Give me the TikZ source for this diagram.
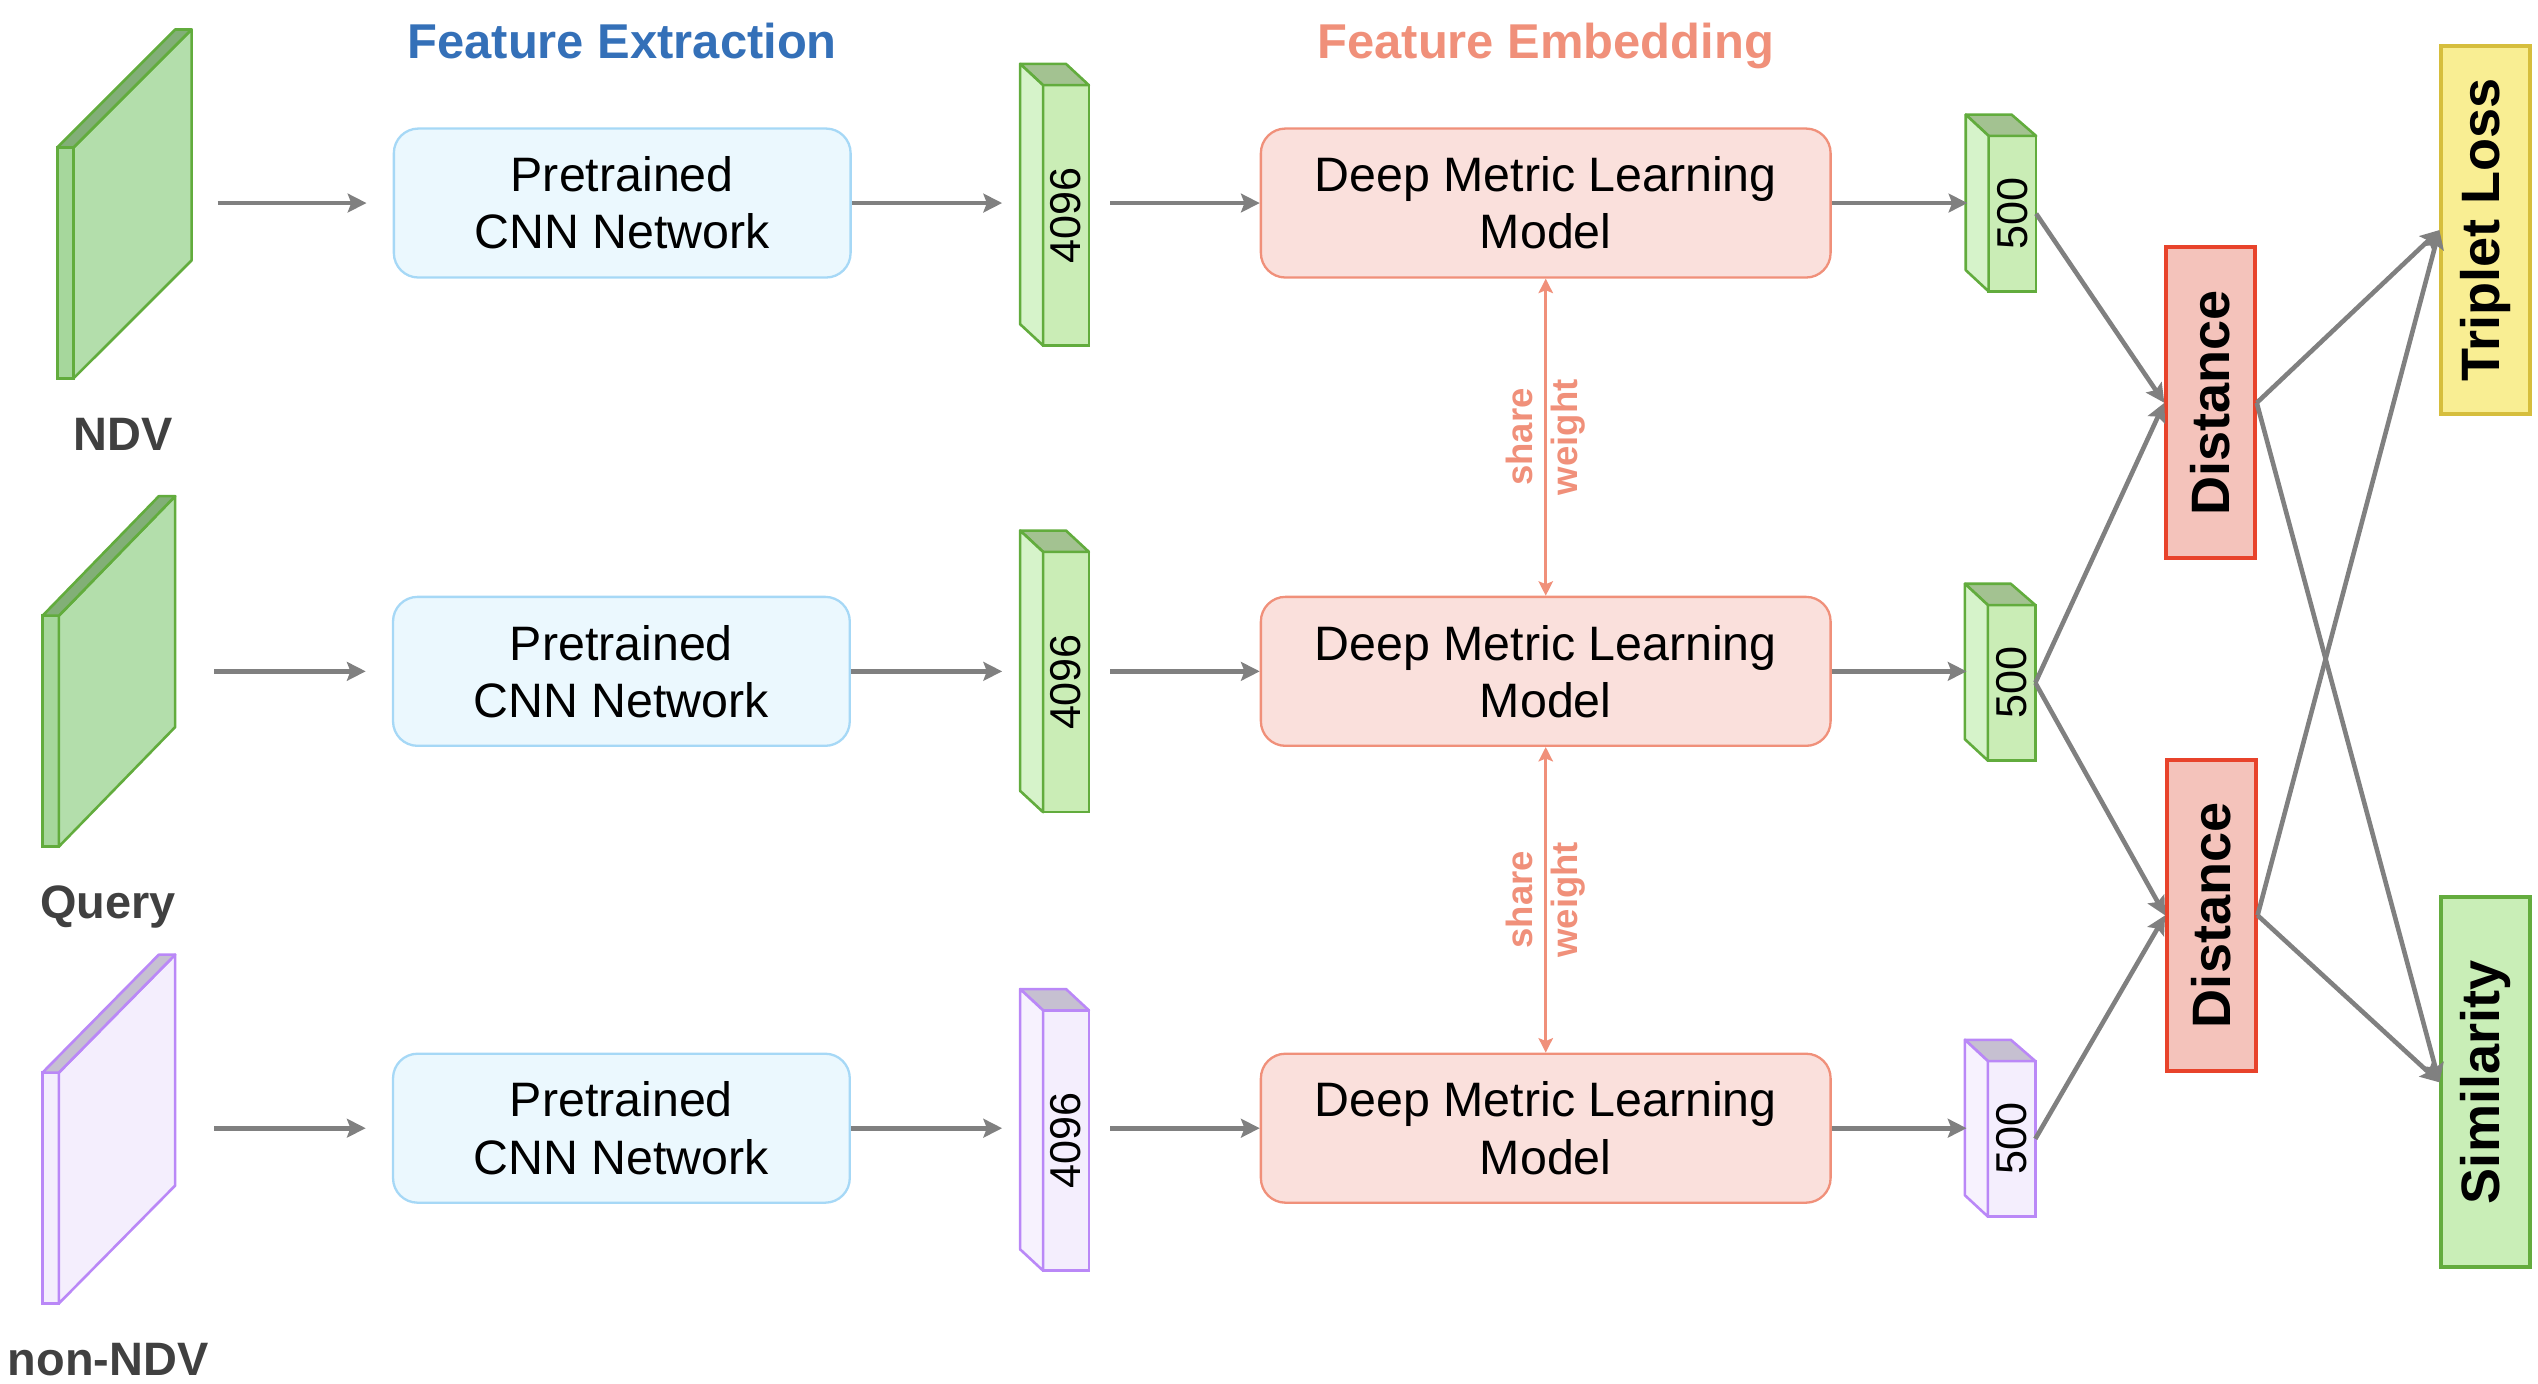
\documentclass[tikz,border=0pt]{standalone}
\usepackage{fontspec}
\setmainfont{Liberation Sans}
\usetikzlibrary{arrows.meta,calc}
\definecolor{fx_blue}{RGB}{52, 112, 184}
\definecolor{fe_red}{RGB}{240, 144, 122}
\definecolor{lb_gray}{RGB}{64, 64, 64}
\definecolor{ar_gray}{RGB}{128, 128, 128}
\definecolor{cn_fill}{RGB}{235, 248, 254}
\definecolor{cn_line}{RGB}{166, 216, 246}
\definecolor{dm_fill}{RGB}{250, 224, 220}
\definecolor{dm_line}{RGB}{240, 144, 122}
\definecolor{g_line}{RGB}{98, 172, 61}
\definecolor{g_main}{RGB}{179, 222, 171}
\definecolor{g_thin}{RGB}{166, 215, 156}
\definecolor{g_top}{RGB}{130, 175, 119}
\definecolor{gv_front}{RGB}{202, 237, 182}
\definecolor{gv_side}{RGB}{214, 243, 202}
\definecolor{gv_top}{RGB}{163, 194, 145}
\definecolor{p_line}{RGB}{186, 136, 247}
\definecolor{p_main}{RGB}{244, 238, 253}
\definecolor{p_side}{RGB}{247, 242, 254}
\definecolor{p_top}{RGB}{198, 192, 209}
\definecolor{ds_fill}{RGB}{244, 195, 187}
\definecolor{ds_line}{RGB}{232, 67, 43}
\definecolor{tl_fill}{RGB}{249, 238, 147}
\definecolor{tl_line}{RGB}{214, 190, 61}
\definecolor{sm_fill}{RGB}{201, 238, 183}
\definecolor{sm_line}{RGB}{100, 172, 62}
\tikzstyle{ttl}=[anchor=base,inner sep=0pt,font=\fontsize{17}{20}\selectfont\bfseries]
\tikzstyle{lb}=[anchor=base,inner sep=0pt,text=lb_gray,font=\fontsize{16.3}{19}\selectfont\bfseries]
\tikzstyle{cn}=[rectangle,rounded corners=0.3cm,fill=cn_fill,draw=cn_line,line width=0.8pt,
  minimum width=5.58cm,minimum height=1.82cm,align=center,font=\fontsize{16.8}{19.9}\selectfont]
\tikzstyle{dm}=[rectangle,rounded corners=0.3cm,fill=dm_fill,draw=dm_line,line width=0.8pt,
  minimum width=6.96cm,minimum height=1.82cm,align=center,font=\fontsize{16.8}{19.9}\selectfont]
\tikzstyle{gs}=[rectangle,fill=g_thin,draw=g_line,line width=0.9pt,inner sep=0pt,outer sep=0pt,
  minimum width=0.2cm,minimum height=2.82cm]
\tikzstyle{ps}=[rectangle,fill=p_main,draw=p_line,line width=0.9pt,inner sep=0pt,outer sep=0pt,
  minimum width=0.2cm,minimum height=2.82cm]
\tikzstyle{gv}=[rectangle,fill=gv_front,draw=g_line,line width=0.9pt,inner sep=0pt,outer sep=0pt,
  minimum width=0.56cm,minimum height=3.18cm,font=\fontsize{15}{18}\selectfont]
\tikzstyle{pv}=[rectangle,fill=p_main,draw=p_line,line width=0.9pt,inner sep=0pt,outer sep=0pt,
  minimum width=0.56cm,minimum height=3.18cm,font=\fontsize{15}{18}\selectfont]
\tikzstyle{gf}=[draw=g_line,line width=0.9pt,line join=round]
\tikzstyle{pf}=[draw=p_line,line width=0.9pt,line join=round]
\tikzstyle{ds}=[rectangle,fill=ds_fill,draw=ds_line,line width=1.4pt,inner sep=0pt,
  minimum width=1.08cm,minimum height=3.8cm,font=\fontsize{18.8}{22}\selectfont\bfseries]
\tikzstyle{tl}=[rectangle,fill=tl_fill,draw=tl_line,line width=1.4pt,inner sep=0pt,
  minimum width=1.08cm,minimum height=4.5cm,font=\fontsize{18.8}{22}\selectfont\bfseries]
\tikzstyle{sm}=[rectangle,fill=sm_fill,draw=sm_line,line width=1.4pt,inner sep=0pt,
  minimum width=1.08cm,minimum height=4.52cm,font=\fontsize{18.8}{22}\selectfont\bfseries]
\tikzstyle{ar}=[draw=ar_gray,line width=1.6pt,-{Stealth[length=6.5pt,width=6.5pt,inset=1.2pt]}]
\tikzstyle{sw}=[draw=fe_red,line width=1.2pt,{Stealth[length=5pt,width=5pt,inset=1pt]}-{Stealth[length=5pt,width=5pt,inset=1pt]}]
\tikzstyle{swl}=[rotate=90,align=center,inner sep=0pt,text=fe_red,font=\fontsize{12.7}{15.4}\selectfont\bfseries]

\begin{document}
\begin{tikzpicture}[x=0.02cm, y=-0.02cm]
    \useasboundingbox (0,0) rectangle (1550,845);
    \node [style=ttl, text=fx_blue] (fx) at (380, 36) {Feature Extraction};
    \node [style=ttl, text=fe_red] (fe) at (944, 36) {Feature Embedding};

    % inputs
    \node [style=gs] (s1) at (40, 160.5) {};
    \filldraw [style=gf, fill=g_main] (s1.north east) -- ++(72,-72) -- ++(0,141) -- (s1.south east) -- cycle;
    \filldraw [style=gf, fill=g_top] (s1.north west) -- ++(72,-72) -- ++(10,0) -- (s1.north east) -- cycle;
    \node [style=gs] (s2) at (31, 446.5) {};
    \filldraw [style=gf, fill=g_main] (s2.north east) -- ++(71,-73) -- ++(0,141) -- (s2.south east) -- cycle;
    \filldraw [style=gf, fill=g_top] (s2.north west) -- ++(71,-73) -- ++(10,0) -- (s2.north east) -- cycle;
    \node [style=ps] (s3) at (31, 725.5) {};
    \filldraw [style=pf, fill=p_main] (s3.north east) -- ++(71,-72) -- ++(0,141) -- (s3.south east) -- cycle;
    \filldraw [style=pf, fill=p_top] (s3.north west) -- ++(71,-72) -- ++(10,0) -- (s3.north east) -- cycle;
    \node [style=lb] (l1) at (75, 275) {NDV};
    \node [style=lb] (l2) at (66, 561) {Query};
    \node [style=lb] (l3) at (66, 840) {non-NDV};

    % feature extraction
    \node [style=cn] (c1) at (380, 124) {Pretrained\\CNN Network};
    \node [style=cn] (c2) at (379.5, 410) {Pretrained\\CNN Network};
    \node [style=cn] (c3) at (379.5, 689) {Pretrained\\CNN Network};

    % 4096 vectors
    \node [style=gv] (v1) at (651, 131.5) {\rotatebox{90}{4096}};
    \filldraw [style=gf, fill=gv_top] (v1.north west) -- ++(-14,-13) -- ++(28,0) -- (v1.north east) -- cycle;
    \filldraw [style=gf, fill=gv_side] (v1.north west) -- ++(-14,-13) -- ($(v1.south west)+(-14,-13)$) -- (v1.south west) -- cycle;
    \node [style=gv] (v2) at (651, 416.5) {\rotatebox{90}{4096}};
    \filldraw [style=gf, fill=gv_top] (v2.north west) -- ++(-14,-13) -- ++(28,0) -- (v2.north east) -- cycle;
    \filldraw [style=gf, fill=gv_side] (v2.north west) -- ++(-14,-13) -- ($(v2.south west)+(-14,-13)$) -- (v2.south west) -- cycle;
    \node [style=pv] (v3) at (651, 696.5) {\rotatebox{90}{4096}};
    \filldraw [style=pf, fill=p_top] (v3.north west) -- ++(-14,-13) -- ++(28,0) -- (v3.north east) -- cycle;
    \filldraw [style=pf, fill=p_side] (v3.north west) -- ++(-14,-13) -- ($(v3.south west)+(-14,-13)$) -- (v3.south west) -- cycle;

    % feature embedding
    \node [style=dm] (m1) at (944, 124) {Deep Metric Learning\\Model};
    \node [style=dm] (m2) at (944, 410) {Deep Metric Learning\\Model};
    \node [style=dm] (m3) at (944, 689) {Deep Metric Learning\\Model};

    % 500 vectors
    \node [style=gv, minimum width=0.58cm, minimum height=1.9cm] (e1) at (1229, 130.5) {\rotatebox{90}{500}};
    \filldraw [style=gf, fill=gv_top] (e1.north west) -- ++(-14,-13) -- ++(28,0) -- (e1.north east) -- cycle;
    \filldraw [style=gf, fill=gv_side] (e1.north west) -- ++(-14,-13) -- ($(e1.south west)+(-14,-13)$) -- (e1.south west) -- cycle;
    \node [style=gv, minimum width=0.58cm, minimum height=1.9cm] (e2) at (1228.5, 417) {\rotatebox{90}{500}};
    \filldraw [style=gf, fill=gv_top] (e2.north west) -- ++(-14,-13) -- ++(28,0) -- (e2.north east) -- cycle;
    \filldraw [style=gf, fill=gv_side] (e2.north west) -- ++(-14,-13) -- ($(e2.south west)+(-14,-13)$) -- (e2.south west) -- cycle;
    \node [style=pv, minimum width=0.58cm, minimum height=1.9cm] (e3) at (1228.5, 695.5) {\rotatebox{90}{500}};
    \filldraw [style=pf, fill=p_top] (e3.north west) -- ++(-14,-13) -- ++(28,0) -- (e3.north east) -- cycle;
    \filldraw [style=pf, fill=p_side] (e3.north west) -- ++(-14,-13) -- ($(e3.south west)+(-14,-13)$) -- (e3.south west) -- cycle;

    % outputs
    \node [style=ds] (d1) at (1350, 246) {\rotatebox{90}{Distance}};
    \node [style=ds] (d2) at (1350.5, 559) {\rotatebox{90}{Distance}};
    \node [style=tl] (t) at (1518, 140.5) {\rotatebox{90}{Triplet Loss}};
    \node [style=sm] (sim) at (1518, 661) {\rotatebox{90}{Similarity}};

    % rows
    \draw [style=ar, shorten <=1.76cm, shorten >=0.32cm] (s1.east |- c1) -- (c1);
    \draw [style=ar, shorten <=1.9cm, shorten >=0.32cm] (s2.east |- c2) -- (c2);
    \draw [style=ar, shorten <=1.9cm, shorten >=0.32cm] (s3.east |- c3) -- (c3);
    \draw [style=ar, shorten >=0.5cm] (c1) -- (c1 -| v1.west);
    \draw [style=ar, shorten >=0.5cm] (c2) -- (c2 -| v2.west);
    \draw [style=ar, shorten >=0.5cm] (c3) -- (c3 -| v3.west);
    \draw [style=ar, shorten <=0.26cm] (v1.east |- m1) -- (m1);
    \draw [style=ar, shorten <=0.26cm] (v2.east |- m2) -- (m2);
    \draw [style=ar, shorten <=0.26cm] (v3.east |- m3) -- (m3);
    \draw [style=ar, shorten >=0.26cm] (m1) -- (m1 -| e1.west);
    \draw [style=ar, shorten >=0.26cm] (m2) -- (m2 -| e2.west);
    \draw [style=ar, shorten >=0.26cm] (m3) -- (m3 -| e3.west);

    % shared weights
    \draw [style=sw] (m1) -- (m2) node [style=swl, midway] (w1) {share\\weight};
    \draw [style=sw] (m2) -- (m3) node [style=swl, midway] (w2) {share\\weight};

    % distances
    \draw [style=ar] (e1.east) -- (d1.west);
    \draw [style=ar] (e2.east) -- (d1.west);
    \draw [style=ar] (e2.east) -- (d2.west);
    \draw [style=ar] (e3.east) -- (d2.west);
    \draw [style=ar] (d1.east) -- (t.west);
    \draw [style=ar] (d1.east) -- (sim.west);
    \draw [style=ar] (d2.east) -- (t.west);
    \draw [style=ar] (d2.east) -- (sim.west);
\end{tikzpicture}
\end{document}
